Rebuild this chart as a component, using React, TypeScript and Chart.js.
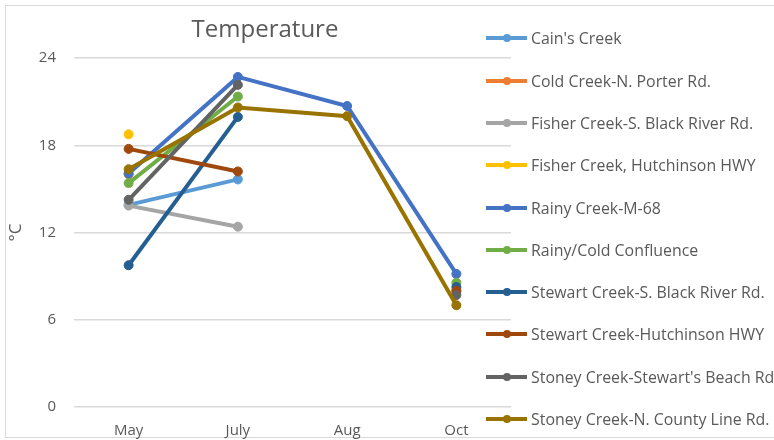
import React, { useEffect, useRef } from "react";
import { Chart, registerables } from "chart.js";

Chart.register(...registerables);

const categories = ["May", "July", "Aug", "Oct"];
const seriesNames = [
  "Cain's Creek",
  "Cold Creek-N. Porter Rd.",
  "Fisher Creek-S. Black River Rd.",
  "Fisher Creek, Hutchinson HWY",
  "Rainy Creek-M-68",
  "Rainy/Cold Confluence",
  "Stewart Creek-S. Black River Rd.",
  "Stewart Creek-Hutchinson HWY",
  "Stoney Creek-Stewart's Beach Rd",
  "Stoney Creek-N. County Line Rd.",
];
const seriesColors = [
  "#5B9BD5",
  "#ED7D31",
  "#A5A5A5",
  "#FFC000",
  "#4472C4",
  "#70AD47",
  "#255E91",
  "#9E480E",
  "#636363",
  "#997300",
];
const cainsCreek = [13.9, 15.65, null, null];
const coldCreekPorter = [16.0, null, null, 7.95];
const fisherBlackRiver = [13.85, 12.4, null, null];
const fisherHutchinson = [18.75, null, null, null];
const rainyM68 = [16.05, 22.7, 20.7, 9.15];
const rainyColdConfluence = [15.4, 21.35, null, 8.55];
const stewartBlackRiver = [9.75, 19.95, null, 8.25];
const stewartHutchinson = [17.75, 16.2, null, 8.0];
const stoneyStewartsBeach = [14.25, 22.15, null, 7.7];
const stoneyCountyLine = [16.35, 20.6, 20.0, 7.0];
const seriesValues = [
  cainsCreek,
  coldCreekPorter,
  fisherBlackRiver,
  fisherHutchinson,
  rainyM68,
  rainyColdConfluence,
  stewartBlackRiver,
  stewartHutchinson,
  stoneyStewartsBeach,
  stoneyCountyLine,
];
const yMin = 0;
const yMax = 24;
const yStep = 6;
const chartTitle = "Temperature";
const yAxisTitle = "°C";

const FONT = "'Open Sans', sans-serif";
const TEXT = "#595959";

export default function App() {
  const canvasRef = useRef<HTMLCanvasElement | null>(null);

  useEffect(() => {
    const canvas = canvasRef.current;
    if (!canvas) return;
    const n = seriesValues.length;
    const chart = new Chart(canvas, {
      type: "line",
      data: {
        labels: categories,
        datasets: seriesValues.map((vals, i) => ({
          label: seriesNames[i],
          data: vals,
          borderColor: seriesColors[i],
          backgroundColor: seriesColors[i],
          pointBackgroundColor: seriesColors[i],
          pointBorderColor: seriesColors[i],
          borderWidth: 4,
          pointRadius: 4.5,
          pointBorderWidth: 1,
          spanGaps: false,
          tension: 0,
          order: n - i,
        })),
      },
      options: {
        responsive: false,
        animation: false,
        devicePixelRatio: 1,
        layout: { padding: { left: 0, top: 58, right: 774 - 511, bottom: 0 } },
        plugins: {
          legend: { display: false },
          title: { display: false },
          tooltip: { enabled: false },
        },
        scales: {
          x: {
            type: "category",
            offset: true,
            grid: { display: false, drawTicks: false },
            border: { display: false },
            ticks: {
              color: TEXT,
              font: { family: FONT, size: 15 },
              padding: 15,
            },
            afterFit: (scale: any) => {
              scale.height = 33;
            },
          },
          y: {
            min: yMin,
            max: yMax,
            ticks: {
              stepSize: yStep,
              color: TEXT,
              font: { family: FONT, size: 15 },
              padding: 18,
            },
            grid: { color: "#d9d9d9", lineWidth: 1.5, drawTicks: false },
            border: { display: false },
            title: {
              display: true,
              text: yAxisTitle,
              color: TEXT,
              font: { family: FONT, size: 17 },
              padding: { top: 6, bottom: 0 },
            },
            afterFit: (scale: any) => {
              scale.width = 74;
            },
          },
        },
      },
    });
    return () => chart.destroy();
  }, []);

  const legendCenters = seriesNames.map((_, i) => 38.3 + i * 42.3);

  return (
    <div
      style={{
        position: "fixed",
        left: 0,
        top: 0,
        width: 774,
        height: 440,
        overflow: "hidden",
        background: "#ffffff",
        fontFamily: FONT,
      }}
    >
      <div
        style={{
          position: "absolute",
          left: 5,
          top: 5,
          width: 800,
          height: 431,
          border: "1.5px solid #d9d9d9",
        }}
      />
      <canvas
        ref={canvasRef}
        width={774}
        height={440}
        style={{ position: "absolute", left: 0, top: 0, width: 774, height: 440 }}
      />
      <div
        style={{
          position: "absolute",
          left: 165,
          top: 12,
          width: 200,
          textAlign: "center",
          fontSize: 24,
          lineHeight: "32px",
          color: TEXT,
        }}
      >
        {chartTitle}
      </div>
      {seriesNames.map((name, i) => (
        <div
          key={name}
          style={{
            position: "absolute",
            left: 486,
            top: legendCenters[i] - 10,
            height: 20,
            width: 290,
          }}
        >
          <div
            style={{
              position: "absolute",
              left: 0,
              top: 8,
              width: 41,
              height: 4,
              background: seriesColors[i],
            }}
          />
          <div
            style={{
              position: "absolute",
              left: 17,
              top: 6,
              width: 8,
              height: 8,
              borderRadius: 4,
              background: seriesColors[i],
            }}
          />
          <div
            style={{
              position: "absolute",
              left: 45,
              top: 0,
              height: 20,
              lineHeight: "20px",
              fontSize: 15.9,
              color: TEXT,
              whiteSpace: "nowrap",
            }}
          >
            {name}
          </div>
        </div>
      ))}
    </div>
  );
}
